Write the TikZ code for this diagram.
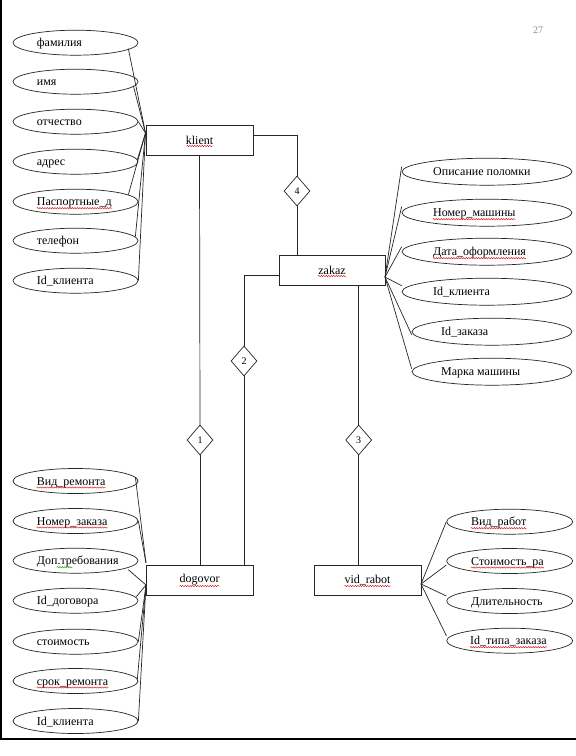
\documentclass[tikz,border=0pt]{standalone}
\usepackage{fontspec}
\setmainfont{Liberation Serif}
\usetikzlibrary{shapes.geometric,decorations.pathmorphing}
\begin{document}
\begin{tikzpicture}[x=1pt,y=-1pt,
  ln/.style={draw=black!85,line width=0.7pt},
  ent/.style={draw=black!85,line width=0.8pt,rectangle,minimum width=107pt,minimum height=30pt,inner sep=0pt,font=\fontsize{12pt}{14pt}\selectfont},
  attr/.style={draw=black!85,line width=0.7pt,ellipse,inner sep=0pt,minimum height=25pt},
  atxt/.style={inner sep=0pt,anchor=base west,font=\fontsize{12pt}{14pt}\selectfont},
  rel/.style={draw=black!85,line width=0.7pt,diamond,minimum width=26pt,minimum height=30pt,inner sep=0pt,font=\fontsize{10pt}{12pt}\selectfont},
  wavy/.style={draw=red!85!black,line width=0.4pt,decorate,decoration={snake,amplitude=0.7pt,segment length=2.5pt}},
  gwavy/.style={wavy,draw=green!60!black},
]
\useasboundingbox (0,0) rectangle (576,756);
\fill[white] (0,0) rectangle (576,756);
\draw[black,line width=1.5pt] (0.75,0) -- (0.75,739) -- (576,739);

% page number
\node[text=black!45,font=\fontsize{10pt}{12pt}\selectfont] (pg) at (538,30) {27};

% entities
\node[ent] (klient) at (199.5,140) {klient};
\node[ent,minimum width=106pt] (zakaz) at (332,270) {zakaz};
\node[ent] (dogovor) at (199.5,580) {dogovor};
\node[ent] (vr) at (367.5,580) {vid\_rabot};

% relationships
\node[rel] (r4) at (297,191) {4};
\node[rel] (r2) at (244,361) {2};
\node[rel] (r1) at (200,440) {1};
\node[rel] (r3) at (358.7,440) {3};

% klient attributes
\node[attr,minimum width=125pt] (k1) at (75.5,42.7) {};
\node[attr,minimum width=125pt] (k2) at (75.5,81.7) {};
\node[attr,minimum width=125pt] (k3) at (75.5,121.7) {};
\node[attr,minimum width=125pt] (k4) at (75.5,161.7) {};
\node[attr,minimum width=125pt] (k5) at (75.5,201.7) {};
\node[attr,minimum width=125pt] (k6) at (75.5,240.7) {};
\node[attr,minimum width=125pt] (k7) at (75.5,280.7) {};
\node[atxt] (tk1) at (36.7,46.7) {фамилия};
\node[atxt] (tk2) at (36.7,85.7) {имя};
\node[atxt] (tk3) at (36.7,125.7) {отчество};
\node[atxt] (tk4) at (36.7,165.7) {адрес};
\node[atxt] (tk5) at (36.7,205.7) {Паспортные\_д};
\node[atxt] (tk6) at (36.7,244.7) {телефон};
\node[atxt] (tk7) at (36.7,284.7) {Id\_клиента};

% zakaz attributes
\node[attr,minimum width=170pt,minimum height=27pt] (z1) at (487,171.7) {};
\node[attr,minimum width=170pt,minimum height=27pt] (z2) at (487,212.7) {};
\node[attr,minimum width=170pt,minimum height=27pt] (z3) at (487,251.7) {};
\node[attr,minimum width=170pt,minimum height=27pt] (z4) at (487,291.7) {};
\node[attr,minimum width=160pt,minimum height=27pt] (z5) at (492,331.7) {};
\node[attr,minimum width=160pt,minimum height=27pt] (z6) at (492,371.7) {};
\node[atxt] (tz1) at (433,175.7) {Описание поломки};
\node[atxt] (tz2) at (433,216.7) {Номер\_машины};
\node[atxt] (tz3) at (433,255.7) {Дата\_оформления};
\node[atxt] (tz4) at (433,295.7) {Id\_клиента};
\node[atxt] (tz5) at (441,335.7) {Id\_заказа};
\node[atxt] (tz6) at (441,375.7) {Марка машины};

% dogovor attributes
\node[attr,minimum width=125pt] (d1) at (75.5,481) {};
\node[attr,minimum width=125pt] (d2) at (75.5,521) {};
\node[attr,minimum width=125pt] (d3) at (75.5,560.7) {};
\node[attr,minimum width=125pt] (d4) at (75.5,600.7) {};
\node[attr,minimum width=125pt] (d5) at (75.5,641.7) {};
\node[attr,minimum width=125pt] (d6) at (75.5,681) {};
\node[attr,minimum width=125pt] (d7) at (75.5,721) {};
\node[atxt] (td1) at (36.7,485) {Вид\_ремонта};
\node[atxt] (td2) at (36.7,525) {Номер\_заказа};
\node[atxt] (td3) at (36.7,564.7) {Доп.требования};
\node[atxt] (td4) at (36.7,604.7) {Id\_договора};
\node[atxt] (td5) at (36.7,645.7) {стоимость};
\node[atxt] (td6) at (36.7,685) {срок\_ремонта};
\node[atxt] (td7) at (36.7,725) {Id\_клиента};

% vid_rabot attributes
\node[attr,minimum width=126pt] (v1) at (509.7,521.7) {};
\node[attr,minimum width=126pt] (v2) at (509.7,561) {};
\node[attr,minimum width=126pt] (v3) at (509.7,601) {};
\node[attr,minimum width=126pt] (v4) at (509.7,640.7) {};
\node[atxt] (tv1) at (471,525.7) {Вид\_работ};
\node[atxt] (tv2) at (471,565) {Стоимость\_ра};
\node[atxt] (tv3) at (471,605) {Длительность};
\node[atxt] (tv4) at (470,644.7) {Id\_типа\_заказа};

% relationship connectors
\draw[ln] ([yshift=5pt]klient.east) -| (r4.north);
\draw[ln] (r4.south) -- (r4.south |- zakaz.north);
\draw[ln] ([yshift=-5pt]zakaz.west) -| (r2.north);
\draw[ln] (r2.south) -- (r2.south |- dogovor.north);
\draw[ln] (klient.south) -- (r1.north);
\draw[ln] (r1.south) -- (r1.south |- dogovor.north);
\draw[ln] (zakaz.south -| r3.north) -- (r3.north);
\draw[ln] (r3.south) -- (r3.south |- vr.north);

% attribute connectors: klient
\coordinate (kc) at (145.5,133);
\draw[ln] (kc) -- ([xshift=-10pt,yshift=-6pt]k1.east);
\draw[ln] (kc) -- ([xshift=-5pt,yshift=-4pt]k2.east);
\draw[ln] (kc) -- (k3.east);
\draw[ln] (kc) -- ([xshift=-1pt,yshift=2pt]k4.east);
\draw[ln] (kc) -- ([xshift=-10pt,yshift=7pt]k5.east);
\draw[ln] (kc) -- ([xshift=-3pt,yshift=4pt]k6.east);
\draw[ln] (kc) -- (k7.east);

% attribute connectors: zakaz
\coordinate (zc) at (385,277);
\draw[ln] (zc) -- ([yshift=5pt]z1.west);
\draw[ln] (zc) -- ([yshift=6pt]z2.west);
\draw[ln] (zc) -- ([yshift=5pt]z3.west);
\draw[ln] (zc) -- ([yshift=6pt]z4.west);
\draw[ln] (zc) -- ([yshift=-3pt]z5.west);
\draw[ln] (zc) -- ([yshift=3pt]z6.west);

% attribute connectors: dogovor
\coordinate (dc1) at (146,563);
\coordinate (dc2) at (146,585);
\draw[ln] (dc1) -- ([xshift=-3pt,yshift=4pt]d1.east);
\draw[ln] (dc1) -- (d2.east);
\draw[ln] (dc2) -- ([xshift=-10pt,yshift=-9pt]d3.east);
\draw[ln] (dc2) -- ([xshift=-2pt,yshift=4pt]d4.east);
\draw[ln] (dc2) -- (d5.east);
\draw[ln] (dc2) -- ([xshift=-1pt,yshift=2pt]d6.east);
\draw[ln] (dc2) -- (d7.east);

% attribute connectors: vid_rabot
\coordinate (vc) at (421,584);
\draw[ln] (vc) -- (v1.west);
\draw[ln] (vc) -- ([yshift=-4pt]v2.west);
\draw[ln] (vc) -- ([yshift=5pt]v3.west);
\draw[ln] (vc) -- ([yshift=5pt]v4.west);

% spell-check underlines
\foreach \t in {tk5,tz2,tz3,td1,td2,td6,tv1,tv2,tv4}{
  \draw[wavy] ([yshift=-2.5pt]\t.base west) -- ([yshift=-2.5pt]\t.base east);
}
\draw[gwavy] ([xshift=20pt,yshift=-2.5pt]td3.base west) -- ([xshift=36pt,yshift=-2.5pt]td3.base west);
\draw[wavy] ([xshift=-13pt,yshift=-6pt]klient.center) -- ([xshift=13pt,yshift=-6pt]klient.center);
\draw[wavy] ([xshift=-14pt,yshift=-6pt]zakaz.center) -- ([xshift=14pt,yshift=-6pt]zakaz.center);
\draw[wavy] ([xshift=-20pt,yshift=-6pt]dogovor.center) -- ([xshift=20pt,yshift=-6pt]dogovor.center);
\draw[wavy] ([xshift=-23pt,yshift=-6pt]vr.center) -- ([xshift=23pt,yshift=-6pt]vr.center);
\end{tikzpicture}
\end{document}
